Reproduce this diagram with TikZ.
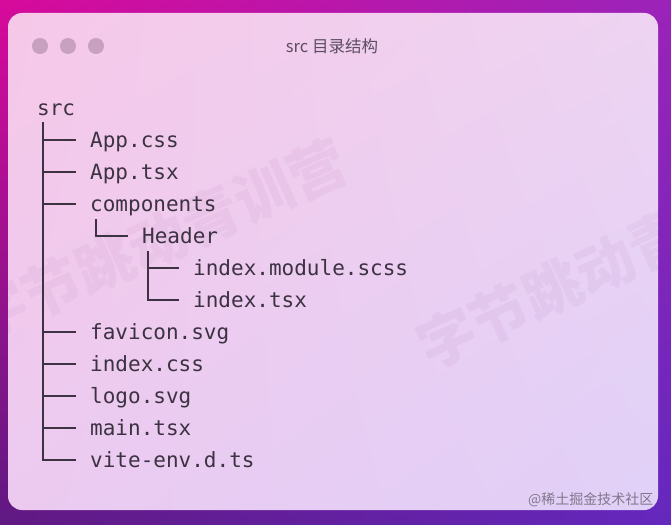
\documentclass[tikz,border=0pt]{standalone}
\usepackage{fontspec}
\usetikzlibrary{shadings}
\newfontfamily\treefont{DejaVu Sans Mono}
\newfontfamily\cjkfont{Noto Sans CJK SC}
\definecolor{bgtl}{RGB}{215, 10, 155}
\definecolor{bgtr}{RGB}{155, 35, 185}
\definecolor{bgbl}{RGB}{95, 25, 130}
\definecolor{bgbr}{RGB}{100, 40, 190}
\definecolor{wintl}{RGB}{246, 200, 232}
\definecolor{wintr}{RGB}{238, 212, 242}
\definecolor{winbl}{RGB}{236, 202, 240}
\definecolor{winbr}{RGB}{224, 208, 248}
\definecolor{treeink}{RGB}{60, 50, 66}
\definecolor{dotgray}{RGB}{200, 160, 192}
\definecolor{titleink}{RGB}{92, 78, 96}
\definecolor{creditink}{RGB}{130, 118, 140}

\begin{document}
\begin{tikzpicture}[
    x=1pt, y=-1pt,
    entry/.style={anchor=base west, inner sep=0pt, text=treeink, font=\treefont\fontsize{21}{25}\selectfont},
    branch/.style={line width=2pt, treeink},
    dot/.style={circle, fill=dotgray, inner sep=0pt, minimum size=16pt},
    title/.style={text=titleink, font=\cjkfont\fontsize{16.5}{19}\selectfont},
    watermark/.style={text=violet!70!black, opacity=0.04, font=\cjkfont\bfseries\fontsize{58}{60}\selectfont},
    credit/.style={anchor=east, text=creditink, font=\cjkfont\fontsize{14}{16}\selectfont}
  ]
    \useasboundingbox (0, 0) rectangle (671, 524);
    \shade[upper left=bgtl, upper right=bgtr, lower left=bgbl, lower right=bgbr] (0, 0) rectangle (671, 524);
    \shade[rounded corners=14pt, upper left=wintl, upper right=wintr, lower left=winbl, lower right=winbr] (8, 13) rectangle (658, 510);

    % faint watermarks on the window
    \begin{scope}
      \clip[rounded corners=14pt] (8, 13) rectangle (658, 510);
      \node[watermark, rotate=24] at (158, 240) (wmleft)  {字节跳动青训营};
      \node[watermark, rotate=25] at (605, 265) (wmright) {字节跳动青训营};
    \end{scope}

    \node[dot] at (40, 46) (dotone)   {};
    \node[dot] at (68, 46) (dottwo)   {};
    \node[dot] at (96, 46) (dotthree) {};
    \node[title] at (332, 46) (title) {src 目录结构};

    \node[entry] at (37, 115)  (src)        {src};
    \node[entry] at (90, 147)  (appcss)     {App.css};
    \node[entry] at (90, 179)  (apptsx)     {App.tsx};
    \node[entry] at (90, 211)  (components) {components};
    \node[entry] at (142, 243) (header)     {Header};
    \node[entry] at (193, 275) (modscss)    {index.module.scss};
    \node[entry] at (193, 307) (headtsx)    {index.tsx};
    \node[entry] at (90, 339)  (favicon)    {favicon.svg};
    \node[entry] at (90, 371)  (indexcss)   {index.css};
    \node[entry] at (90, 403)  (logo)       {logo.svg};
    \node[entry] at (90, 435)  (maintsx)    {main.tsx};
    \node[entry] at (90, 467)  (viteenv)    {vite-env.d.ts};

    \draw[branch] ([shift={(6.4pt,-7pt)}]src.base west) |- ([shift={(-14pt,7.5pt)}]appcss.base west);
    \draw[branch] ([shift={(6.4pt,-7pt)}]src.base west) |- ([shift={(-14pt,7.5pt)}]apptsx.base west);
    \draw[branch] ([shift={(6.4pt,-7pt)}]src.base west) |- ([shift={(-14pt,7.5pt)}]components.base west);
    \draw[branch] ([shift={(6.4pt,-7pt)}]src.base west) |- ([shift={(-14pt,7.5pt)}]favicon.base west);
    \draw[branch] ([shift={(6.4pt,-7pt)}]src.base west) |- ([shift={(-14pt,7.5pt)}]indexcss.base west);
    \draw[branch] ([shift={(6.4pt,-7pt)}]src.base west) |- ([shift={(-14pt,7.5pt)}]logo.base west);
    \draw[branch] ([shift={(6.4pt,-7pt)}]src.base west) |- ([shift={(-14pt,7.5pt)}]maintsx.base west);
    \draw[branch] ([shift={(6.4pt,-7pt)}]src.base west) |- ([shift={(-14pt,7.5pt)}]viteenv.base west);
    \draw[branch] ([shift={(5.5pt,-8pt)}]components.base west) |- ([shift={(-14pt,7.5pt)}]header.base west);
    \draw[branch] ([shift={(6pt,-8pt)}]header.base west) |- ([shift={(-14pt,7.5pt)}]modscss.base west);
    \draw[branch] ([shift={(6pt,-8pt)}]header.base west) |- ([shift={(-14pt,7.5pt)}]headtsx.base west);

    \node[credit] at (657, 500) (credit) {@稀土掘金技术社区};
  \end{tikzpicture}
\end{document}
